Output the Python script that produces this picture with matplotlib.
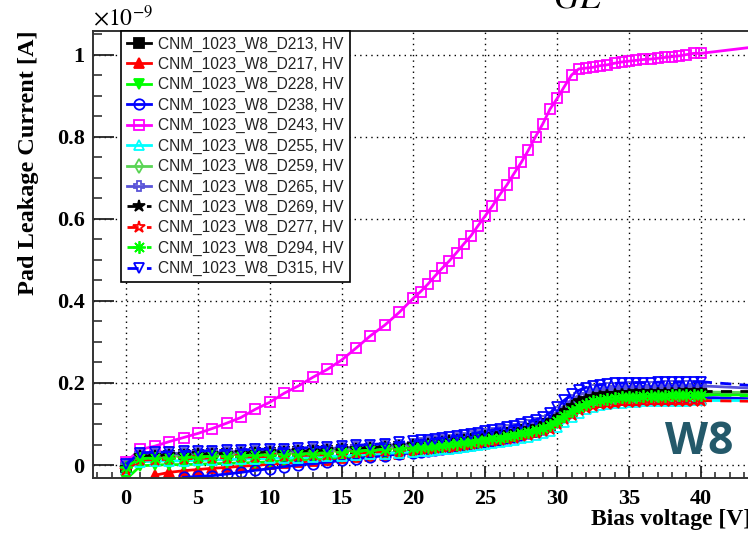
import numpy as np
import matplotlib
matplotlib.use('Agg')
import matplotlib.pyplot as plt
from matplotlib.ticker import MultipleLocator, FuncFormatter

nan = np.nan

# bias voltage steps [V]: 1 V up to 19 V, then 0.5 V
voltage = [0, 1, 2, 3, 4, 5, 6, 7, 8, 9, 10, 11, 12, 13, 14, 15, 16, 17, 18, 19,
           20, 20.5, 21, 21.5, 22, 22.5, 23, 23.5, 24, 24.5, 25, 25.5, 26, 26.5, 27, 27.5,
           28, 28.5, 29, 29.5, 30, 30.5, 31, 31.5, 32, 32.5, 33, 33.5, 34, 34.5, 35, 35.5,
           36, 36.5, 37, 37.5, 38, 38.5, 39, 39.5, 40]
tail_voltage = [40, 45]

# pad leakage current, units of 1e-9 A
i_d213 = [-0.005, 0.020, 0.022, 0.023, 0.024, 0.025, 0.026, 0.027, 0.028, 0.029,
          0.030, 0.031, 0.032, 0.033, 0.034, 0.036, 0.037, 0.039, 0.041, 0.043,
          0.045, 0.046, 0.048, 0.049, 0.051, 0.053, 0.055, 0.057, 0.059, 0.061,
          0.064, 0.066, 0.069, 0.072, 0.075, 0.078, 0.082, 0.086, 0.091, 0.098,
          0.108, 0.120, 0.133, 0.144, 0.152, 0.157, 0.161, 0.164, 0.166, 0.168,
          0.169, 0.170, 0.171, 0.172, 0.172, 0.173, 0.173, 0.174, 0.174, 0.175, 0.175]
i_d217 = [nan, nan, -0.025, -0.018, -0.014, -0.011, -0.008, -0.006, -0.003, -0.001,
          0.002, 0.004, 0.007, 0.010, 0.013, 0.016, 0.019, 0.022, 0.025, 0.028,
          0.031, 0.033, 0.035, 0.037, 0.040, 0.042, 0.045, 0.047, 0.050, 0.053,
          0.056, 0.059, 0.062, 0.065, 0.069, 0.073, 0.077, 0.081, 0.087, 0.095,
          0.106, 0.118, 0.130, 0.140, 0.147, 0.151, 0.154, 0.156, 0.157, 0.158,
          0.159, 0.159, 0.160, 0.160, 0.160, 0.161, 0.161, 0.161, 0.162, 0.162, 0.162]
i_d228 = [-0.035, -0.002, 0.000, 0.001, 0.001, 0.002, 0.003, 0.004, 0.005, 0.006,
          0.008, 0.010, 0.012, 0.014, 0.016, 0.019, 0.022, 0.025, 0.028, 0.031,
          0.034, 0.036, 0.038, 0.040, 0.042, 0.044, 0.046, 0.048, 0.051, 0.054,
          0.057, 0.060, 0.063, 0.066, 0.070, 0.074, 0.078, 0.083, 0.089, 0.097,
          0.107, 0.119, 0.131, 0.141, 0.149, 0.154, 0.158, 0.161, 0.163, 0.165,
          0.166, 0.167, 0.168, 0.169, 0.169, 0.170, 0.170, 0.171, 0.171, 0.172, 0.172]
i_d238 = [nan, nan, nan, nan, -0.030, -0.028, -0.026, -0.022, -0.018, -0.013,
          -0.009, -0.004, 0.000, 0.003, 0.007, 0.011, 0.015, 0.019, 0.023, 0.027,
          0.030, 0.032, 0.034, 0.036, 0.039, 0.041, 0.044, 0.046, 0.049, 0.052,
          0.055, 0.058, 0.061, 0.065, 0.069, 0.073, 0.077, 0.082, 0.088, 0.096,
          0.107, 0.119, 0.131, 0.141, 0.148, 0.153, 0.156, 0.158, 0.160, 0.161,
          0.162, 0.162, 0.163, 0.163, 0.164, 0.164, 0.164, 0.165, 0.165, 0.165, 0.165]
i_d243 = [0.008, 0.038, 0.046, 0.057, 0.067, 0.077, 0.089, 0.102, 0.116, 0.136,
          0.153, 0.175, 0.193, 0.214, 0.233, 0.256, 0.285, 0.315, 0.341, 0.372,
          0.407, 0.423, 0.441, 0.461, 0.480, 0.498, 0.518, 0.539, 0.559, 0.584,
          0.608, 0.632, 0.659, 0.683, 0.711, 0.738, 0.768, 0.801, 0.832, 0.868,
          0.894, 0.923, 0.951, 0.966, 0.968, 0.970, 0.974, 0.976, 0.980, 0.983,
          0.985, 0.987, 0.989, 0.990, 0.992, 0.994, 0.996, 0.998, 1.001, 1.004, 1.004]
i_d255 = [-0.010, 0.008, 0.009, 0.010, 0.010, 0.011, 0.012, 0.013, 0.014, 0.015,
          0.016, 0.017, 0.018, 0.019, 0.021, 0.022, 0.024, 0.026, 0.028, 0.030,
          0.032, 0.033, 0.035, 0.036, 0.038, 0.040, 0.042, 0.044, 0.046, 0.048,
          0.051, 0.053, 0.056, 0.059, 0.062, 0.065, 0.069, 0.073, 0.078, 0.084,
          0.093, 0.104, 0.116, 0.127, 0.136, 0.142, 0.146, 0.149, 0.151, 0.152,
          0.153, 0.154, 0.155, 0.155, 0.156, 0.156, 0.157, 0.157, 0.157, 0.158, 0.158]
i_d259 = [-0.002, 0.018, 0.020, 0.021, 0.022, 0.023, 0.024, 0.025, 0.026, 0.027,
          0.028, 0.029, 0.030, 0.031, 0.033, 0.035, 0.037, 0.039, 0.041, 0.043,
          0.045, 0.047, 0.049, 0.051, 0.053, 0.055, 0.057, 0.059, 0.061, 0.063,
          0.066, 0.068, 0.071, 0.074, 0.077, 0.080, 0.084, 0.088, 0.093, 0.100,
          0.110, 0.122, 0.135, 0.146, 0.154, 0.160, 0.164, 0.167, 0.169, 0.171,
          0.172, 0.173, 0.174, 0.175, 0.175, 0.176, 0.176, 0.177, 0.177, 0.178, 0.178]
i_d265 = [0.000, 0.026, 0.027, 0.028, 0.029, 0.030, 0.031, 0.032, 0.033, 0.034,
          0.035, 0.036, 0.037, 0.038, 0.040, 0.042, 0.044, 0.046, 0.048, 0.050,
          0.052, 0.054, 0.056, 0.058, 0.060, 0.062, 0.065, 0.067, 0.070, 0.073,
          0.076, 0.079, 0.082, 0.085, 0.089, 0.093, 0.097, 0.102, 0.108, 0.117,
          0.130, 0.145, 0.159, 0.170, 0.177, 0.182, 0.185, 0.187, 0.188, 0.189,
          0.190, 0.190, 0.191, 0.191, 0.191, 0.192, 0.192, 0.192, 0.192, 0.193, 0.193]
i_d269 = [-0.008, 0.021, 0.023, 0.024, 0.025, 0.026, 0.027, 0.028, 0.029, 0.030,
          0.031, 0.032, 0.033, 0.034, 0.036, 0.038, 0.040, 0.042, 0.044, 0.046,
          0.048, 0.050, 0.052, 0.054, 0.056, 0.058, 0.060, 0.062, 0.064, 0.067,
          0.070, 0.072, 0.075, 0.078, 0.081, 0.085, 0.089, 0.093, 0.099, 0.107,
          0.118, 0.131, 0.144, 0.155, 0.162, 0.167, 0.170, 0.172, 0.174, 0.175,
          0.176, 0.177, 0.177, 0.178, 0.178, 0.179, 0.179, 0.179, 0.180, 0.180, 0.180]
i_d277 = [-0.012, 0.012, 0.013, 0.014, 0.015, 0.016, 0.017, 0.018, 0.019, 0.020,
          0.021, 0.022, 0.023, 0.024, 0.025, 0.027, 0.029, 0.031, 0.033, 0.035,
          0.037, 0.038, 0.040, 0.041, 0.043, 0.045, 0.047, 0.049, 0.051, 0.053,
          0.056, 0.058, 0.061, 0.063, 0.066, 0.070, 0.073, 0.077, 0.082, 0.089,
          0.099, 0.111, 0.123, 0.133, 0.140, 0.145, 0.148, 0.150, 0.152, 0.153,
          0.154, 0.154, 0.155, 0.155, 0.156, 0.156, 0.156, 0.157, 0.157, 0.157, 0.157]
i_d294 = [-0.004, 0.016, 0.017, 0.018, 0.019, 0.020, 0.021, 0.022, 0.023, 0.024,
          0.025, 0.026, 0.027, 0.028, 0.030, 0.032, 0.034, 0.036, 0.038, 0.040,
          0.042, 0.044, 0.046, 0.047, 0.049, 0.051, 0.053, 0.055, 0.057, 0.060,
          0.062, 0.065, 0.067, 0.070, 0.073, 0.077, 0.081, 0.085, 0.090, 0.097,
          0.107, 0.119, 0.132, 0.142, 0.150, 0.155, 0.159, 0.162, 0.164, 0.165,
          0.166, 0.167, 0.168, 0.168, 0.169, 0.169, 0.170, 0.170, 0.170, 0.171, 0.171]
i_d315 = [0.002, 0.030, 0.031, 0.032, 0.033, 0.034, 0.035, 0.036, 0.037, 0.038,
          0.039, 0.040, 0.041, 0.043, 0.044, 0.046, 0.048, 0.050, 0.052, 0.055,
          0.058, 0.060, 0.062, 0.064, 0.066, 0.068, 0.071, 0.073, 0.076, 0.079,
          0.082, 0.085, 0.089, 0.092, 0.096, 0.100, 0.105, 0.110, 0.117, 0.127,
          0.142, 0.158, 0.172, 0.182, 0.189, 0.193, 0.196, 0.198, 0.199, 0.200,
          0.200, 0.201, 0.201, 0.201, 0.202, 0.202, 0.202, 0.202, 0.203, 0.203, 0.203]

# current at 45 V (line continues past the last marker)
tail_current = [0.175, 0.160, 0.170, 0.160, 1.025, 0.158, 0.176, 0.185, 0.180, 0.155, 0.168, 0.190]

labels = ['CNM_1023_W8_D213, HV', 'CNM_1023_W8_D217, HV', 'CNM_1023_W8_D228, HV',
          'CNM_1023_W8_D238, HV', 'CNM_1023_W8_D243, HV', 'CNM_1023_W8_D255, HV',
          'CNM_1023_W8_D259, HV', 'CNM_1023_W8_D265, HV', 'CNM_1023_W8_D269, HV',
          'CNM_1023_W8_D277, HV', 'CNM_1023_W8_D294, HV', 'CNM_1023_W8_D315, HV']
currents = [i_d213, i_d217, i_d228, i_d238, i_d243, i_d255,
            i_d259, i_d265, i_d269, i_d277, i_d294, i_d315]

# ROOT-like styles: colour, marker, filled?, linestyle
styles = [
    ('#000000', 's', True, '-'),
    ('#ff0000', '^', True, '-'),
    ('#00ff00', 'v', True, '-'),
    ('#0000ff', 'o', False, '-'),
    ('#ff00ff', 's', False, '-'),
    ('#00ffff', '^', False, '-'),
    ('#59d454', 'd', False, '-'),
    ('#5954d8', 'P', False, '-'),
    ('#000000', '*', True, (0, (4, 3))),
    ('#ff0000', '*', False, (0, (4, 3))),
    ('#00ff00', (8, 2, 0), True, (0, (4, 3))),
    ('#0000ff', 'v', False, (0, (4, 3))),
]

fig = plt.figure(figsize=(7.48, 5.34), dpi=100)
ax = fig.add_axes([93 / 748, 56 / 534, 655 / 748, 447 / 534])

for lab, cur, tail, (col, mk, filled, ls) in zip(labels, currents, tail_current, styles):
    ms = 9 if mk in ('*', (8, 2, 0)) else 7.5
    ax.plot(voltage, cur, color=col, ls=ls, lw=2, marker=mk, ms=ms,
            mfc=col if filled else 'none', mec=col, mew=1.3, label=lab)
    ax.plot(tail_voltage, [cur[-1], tail], color=col, ls=ls, lw=2)

ax.set_xlim(-2.3, 43.28)
ax.set_ylim(-0.0317, 1.0585)

ax.xaxis.set_major_locator(MultipleLocator(5))
ax.xaxis.set_minor_locator(MultipleLocator(1))
ax.yaxis.set_major_locator(MultipleLocator(0.2))
ax.yaxis.set_minor_locator(MultipleLocator(0.05))
ax.yaxis.set_major_formatter(FuncFormatter(lambda v, p: '%g' % round(v, 3)))

ax.grid(True, which='major', color='black', linestyle=(0, (1, 3)), linewidth=1)
ax.tick_params(which='both', direction='in', top=False, right=False, color='#222222')
ax.tick_params(axis='y', which='major', length=15, width=1.3, pad=6)
ax.tick_params(axis='y', which='minor', length=6.5, width=1.1)
ax.tick_params(axis='x', which='major', length=8.5, width=1.3, pad=8)
ax.tick_params(axis='x', which='minor', length=4.3, width=1.1)
for t in ax.get_xticklabels() + ax.get_yticklabels():
    t.set_fontfamily('Liberation Serif')
    t.set_fontweight('bold')
    t.set_fontsize(16)

for side in ('left', 'bottom', 'top'):
    ax.spines[side].set_linewidth(1.4)
    ax.spines[side].set_color('#333333')
ax.spines['right'].set_visible(False)

ax.set_xlabel('Bias voltage [V]', fontfamily='Liberation Serif', fontweight='bold',
              fontsize=17)
ax.xaxis.set_label_coords(1.005, -0.07)
ax.xaxis.label.set_ha('right')
ax.set_ylabel('Pad Leakage Current [A]', fontfamily='Liberation Serif',
              fontweight='bold', fontsize=17.5)
ax.yaxis.set_label_coords(-0.083, 1.0)
ax.yaxis.label.set_ha('right')

plt.rcParams['mathtext.fontset'] = 'stix'
fig.text(93 / 748, 1 - 18 / 534, r'$\times10^{-9}$', fontsize=17, va='center', ha='left')
fig.text(577 / 748, 1 - 8 / 534, r'$GL$', fontsize=26, va='baseline', ha='center')

ax.text((699 - 93) / 655, (478 - 442) / 447, 'W8', transform=ax.transAxes,
        fontfamily='Open Sans', fontweight='bold', fontsize=32, color='#24596a',
        ha='center', va='center')

leg = ax.legend(loc='upper left', bbox_to_anchor=(0.043, 1.0), borderaxespad=0,
                fancybox=False, framealpha=1, edgecolor='black',
                prop={'family': 'Liberation Sans', 'size': 11.2},
                labelspacing=0.34, handlelength=1.6, handletextpad=0.45,
                borderpad=0.35)
leg.get_frame().set_linewidth(1.2)
for txt in leg.get_texts():
    txt.set_color('#222222')

fig.savefig('out.png', dpi=100)
